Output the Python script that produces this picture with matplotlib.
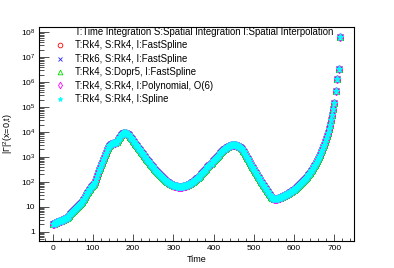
import matplotlib
matplotlib.use("Agg")
import numpy as np
import matplotlib.pyplot as plt
from matplotlib.lines import Line2D
from matplotlib.ticker import FixedLocator, FixedFormatter, LogLocator, MultipleLocator, NullFormatter

plt.rcParams['font.family'] = ['Liberation Sans', 'DejaVu Sans']
plt.rcParams['mathtext.fontset'] = 'custom'
plt.rcParams['mathtext.rm'] = 'Liberation Sans'
plt.rcParams['mathtext.it'] = 'Liberation Sans:italic'

# ---- data ----
# sample times: regular output grid every 2.5 time units up to 700, then the last outputs
grid_step = 2.5
grid_end = 700
tail_times = [704, 708, 711.5, 714]

amplitude = [
    2.0, 2.12, 2.24, 2.34, 2.45, 2.54, 2.63, 2.72, 2.82, 2.92, 3.02, 3.13, 3.24, 3.43, 3.63, 4.03, 4.47, 4.96, 5.50, 6.03,
    6.61, 7.24, 7.94, 8.71, 9.55, 10.5, 11.5, 12.7, 14.1, 16.0, 18.2, 21.4, 25.1, 29.9, 35.5, 40.8, 46.8, 53.1, 60.3, 68.4,
    77.6, 86.1, 95.5, 130, 178, 226, 288, 363, 457, 575, 724, 912, 1148, 1445, 1820, 2188, 2630, 2917, 3236, 3388,
    3548, 3631, 3715, 3846, 3981, 4786, 5754, 6607, 7586, 8222, 8913, 9016, 9120, 8913, 8710, 8035, 7413, 6531, 5754, 5070,
    4467, 3935, 3467, 3055, 2692, 2371, 2089, 1841, 1622, 1429, 1259, 1109, 977, 861, 759, 677, 603, 537, 479, 427,
    380, 343, 309, 278, 251, 226, 204, 186, 170, 155, 141, 130, 120, 111, 102, 96.4, 91.2, 86.1, 81.3, 77.6,
    74.1, 71.6, 69.2, 67.6, 66.1, 65.3, 64.6, 64.2, 64.6, 65.3, 66.1, 67.6, 69.2, 71.6, 74.1, 76.7, 79.4, 84.1, 89.1, 95.3,
    102, 109, 117, 127, 138, 150, 162, 180, 200, 221, 245, 272, 302, 339, 380, 422, 468, 525, 589, 661,
    741, 822, 912, 1012, 1122, 1244, 1380, 1514, 1660, 1820, 1995, 2138, 2291, 2427, 2570, 2692, 2818, 2884, 2951, 2990,
    3020, 2990, 2951, 2851, 2754, 2600, 2455, 2213, 1995, 1738, 1514, 1288, 1096, 933, 794, 668, 562, 478, 407, 347,
    295, 254, 219, 188, 162, 139, 120, 103, 89.1, 76.7, 66.1, 57.5, 50.1, 43.6, 38.0, 33.1, 28.8, 25.7, 22.9, 21.7,
    20.9, 20.7, 20.9, 21.4, 21.9, 22.6, 23.4, 24.5, 25.7, 26.9, 28.2, 29.5, 30.9, 32.4, 33.9, 35.9, 38.0, 40.3, 42.7, 45.7,
    49.0, 53.1, 57.5, 62.3, 67.6, 73.3, 79.4, 87.1, 95.5, 106, 117, 130, 145, 162, 182, 206, 234, 269, 309, 359,
    417, 490, 575, 692, 832, 1012, 1230, 1531, 1905, 2426, 3090, 4027, 5248, 6998, 9333, 13330, 19050, 30200, 47860, 83200,
    144500,
    457100, 1.32e6, 3.31e6, 6.46e7]

series_labels = ["T:Rk4, S:Rk4, I:FastSpline",
                 "T:Rk6, S:Rk4, I:FastSpline",
                 "T:Rk4, S:Dopr5, I:FastSpline",
                 "T:Rk4, S:Rk4, I:Polynomial, O(6)",
                 "T:Rk4, S:Rk4, I:Spline"]
series_colors = ["#ff0000", "#2020ff", "#00dd00", "#ff00ff", "#00ffff"]
series_markers = ["o", "x", "^", "d", "*"]
legend_header = "T:Time Integration S:Spatial Integration I:Spatial Interpolation"

ytick_values = [1, 10, 1e2, 1e3, 1e4, 1e5, 1e6, 1e7, 1e8]
ytick_labels = ["1", "10", r"$10^{2}$", r"$10^{3}$", r"$10^{4}$", r"$10^{5}$",
                r"$10^{6}$", r"$10^{7}$", r"$10^{8}$"]

time = list(np.arange(0, grid_end + grid_step / 2, grid_step)) + tail_times

# ---- figure ----
fig = plt.figure(figsize=(3.94, 2.68), dpi=100)
ax = fig.add_axes([0.0998, 0.102, 0.7995, 0.798])

sizes = [4.3, 4.5, 4.8, 4.3, 5.2]
handles = [Line2D([], [], linestyle='none', marker='none')]
labels = [legend_header]
for lab, col, mk, ms in zip(series_labels, series_colors, series_markers, sizes):
    filled = mk in ("*",)
    ax.plot(time, amplitude, linestyle='none', marker=mk, ms=ms,
            mfc=col if filled else 'none', mec=col, mew=0.8)
    h = Line2D([], [], linestyle='none', marker=mk, ms=3.4,
               mfc=col if filled else 'none', mec=col, mew=0.6)
    handles.append(h)
    labels.append(lab)

ax.set_yscale('log')
ax.set_xlim(-33, 750)
ax.set_ylim(0.44, 1.66e8)

ax.yaxis.set_major_locator(FixedLocator(ytick_values))
ax.yaxis.set_major_formatter(FixedFormatter(ytick_labels))
ax.yaxis.set_minor_locator(LogLocator(base=10, subs=range(2, 10), numticks=100))
ax.yaxis.set_minor_formatter(NullFormatter())
ax.xaxis.set_major_locator(MultipleLocator(100))
ax.xaxis.set_minor_locator(MultipleLocator(20))

ax.tick_params(axis='both', which='both', direction='in', top=False, right=False,
               labelsize=6, width=0.6, colors='#333333', labelcolor='black')
ax.tick_params(axis='y', which='major', length=7, pad=3)
ax.tick_params(axis='y', which='minor', length=3.5)
ax.tick_params(axis='x', which='major', length=5, pad=3)
ax.tick_params(axis='x', which='minor', length=2.5)
for sp in ax.spines.values():
    sp.set_linewidth(0.8)

ax.set_xlabel("Time", fontsize=6.5, labelpad=2)
ax.set_ylabel(r"|$\Gamma$|$^{2}$(x=0,t)", fontsize=6.5, labelpad=4)

leg = ax.legend(handles, labels, loc='upper left', bbox_to_anchor=(54 / 394, 1 - 27 / 268),
                bbox_transform=fig.transFigure, frameon=False, fontsize=6.9,
                borderpad=0, borderaxespad=0, handlelength=1.3, handletextpad=0.9,
                labelspacing=0.36)

fig.savefig("out.png", dpi=100)
